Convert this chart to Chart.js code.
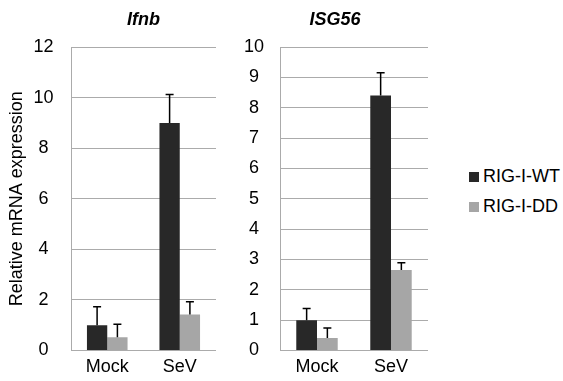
<!DOCTYPE html>
<html>
<head>
<meta charset="utf-8">
<script src="https://cdn.jsdelivr.net/npm/chart.js@4.4.1/dist/chart.umd.min.js"></script>
<style>
  body { margin: 0; background: #fff; }
  #wrap { position: relative; width: 563px; height: 381px; overflow: hidden; font-family: 'Liberation Sans', Arial, sans-serif; }
  #wrap canvas { position: absolute; top: 0; }
  #chart-ifnb { left: 0; }
  #chart-isg56 { left: 230px; }
  .leg { position: absolute; left: 469px; height: 20px; line-height: 20px; font-size: 18px; color: #000; white-space: nowrap; }
  .leg span { display: inline-block; width: 10px; height: 10px; margin-right: 4px; }
</style>
</head>
<body>
<div id="wrap">
  <canvas id="chart-ifnb" width="230" height="381"></canvas>
  <canvas id="chart-isg56" width="212" height="381"></canvas>
  <div id="legend"></div>
</div>
<script>
const categories = ['Mock', 'SeV'];
const seriesNames = ['RIG-I-WT', 'RIG-I-DD'];
const seriesColors = ['#282828', '#a6a6a6'];

// Ifnb
const ifnbWT = [1.0, 9.0];
const ifnbWTErr = [0.73, 1.12];
const ifnbDD = [0.52, 1.42];
const ifnbDDErr = [0.52, 0.51];
const ifnbTicks = [0, 2, 4, 6, 8, 10, 12];

// ISG56
const isgWT = [1.0, 8.4];
const isgWTErr = [0.38, 0.75];
const isgDD = [0.41, 2.65];
const isgDDErr = [0.33, 0.24];
const isgTicks = [0, 1, 2, 3, 4, 5, 6, 7, 8, 9, 10];

Chart.defaults.font.family = "'Liberation Sans', Arial, sans-serif";
Chart.defaults.color = '#000';

const errorBars = {
  id: 'errorBars',
  afterDatasetsDraw(chart) {
    const ctx = chart.ctx;
    const y = chart.scales.y;
    chart.data.datasets.forEach((ds, i) => {
      chart.getDatasetMeta(i).data.forEach((bar, j) => {
        const top = y.getPixelForValue(ds.data[j] + ds.errors[j]);
        ctx.save();
        ctx.strokeStyle = '#000';
        ctx.lineWidth = 1.5;
        ctx.beginPath();
        ctx.moveTo(bar.x, bar.y);
        ctx.lineTo(bar.x, top);
        ctx.moveTo(bar.x - 4, top);
        ctx.lineTo(bar.x + 4, top);
        ctx.stroke();
        ctx.restore();
      });
    });
  }
};

function buildChart(id, title, wt, wtErr, dd, ddErr, ticks, opts) {
  const ctx = document.getElementById(id);

  const data = {
    labels: categories,
    datasets: [
      { label: seriesNames[0], data: wt, errors: wtErr, backgroundColor: seriesColors[0] },
      { label: seriesNames[1], data: dd, errors: ddErr, backgroundColor: seriesColors[1] }
    ]
  };

  const config = {
    type: 'bar',
    data: data,
    plugins: [errorBars],
    options: {
      responsive: false,
      animation: false,
      categoryPercentage: 0.56,
      barPercentage: 1.0,
      layout: { padding: { left: opts.padLeft, right: 14, top: 0, bottom: 0 } },
      plugins: {
        legend: { display: false },
        tooltip: { enabled: false },
        title: {
          display: true,
          text: title,
          fullSize: opts.titleFull,
          color: '#000',
          font: { size: 18, weight: 'bold', style: 'italic' },
          padding: { top: 9.2, bottom: 16.2 }
        }
      },
      scales: {
        x: {
          grid: { display: false, drawTicks: false },
          border: { display: false },
          ticks: { padding: 5.7, font: { size: 18 }, color: '#000' },
          afterFit(s) { s.height = 30.5; }
        },
        y: {
          min: ticks[0],
          max: ticks[ticks.length - 1],
          grid: { color: '#ababab', lineWidth: 1, drawTicks: false },
          border: { display: true, color: '#ababab', width: 1 },
          ticks: {
            stepSize: ticks[1] - ticks[0],
            padding: opts.tickPad,
            crossAlign: 'center',
            font: { size: 18 },
            color: '#000'
          },
          title: {
            display: !!opts.yTitle,
            text: opts.yTitle || '',
            font: { size: 18 },
            color: '#000',
            padding: { top: 6, bottom: 0 }
          },
          afterFit(s) { s.width = opts.axisWidth; }
        }
      }
    }
  };

  new Chart(ctx, config);
}

buildChart('chart-ifnb', 'Ifnb', ifnbWT, ifnbWTErr, ifnbDD, ifnbDDErr, ifnbTicks,
  { padLeft: 0, axisWidth: 71, tickPad: 17.5, titleFull: false, yTitle: 'Relative mRNA expression' });
buildChart('chart-isg56', 'ISG56', isgWT, isgWTErr, isgDD, isgDDErr, isgTicks,
  { padLeft: 12, axisWidth: 38, tickPad: 16, titleFull: true });

const legend = document.getElementById('legend');
seriesNames.forEach((name, i) => {
  const row = document.createElement('div');
  row.className = 'leg';
  row.style.top = (165.5 + i * 30) + 'px';
  row.innerHTML = '<span style="background:' + seriesColors[i] + '"></span>' + name;
  legend.appendChild(row);
});
</script>
</body>
</html>
